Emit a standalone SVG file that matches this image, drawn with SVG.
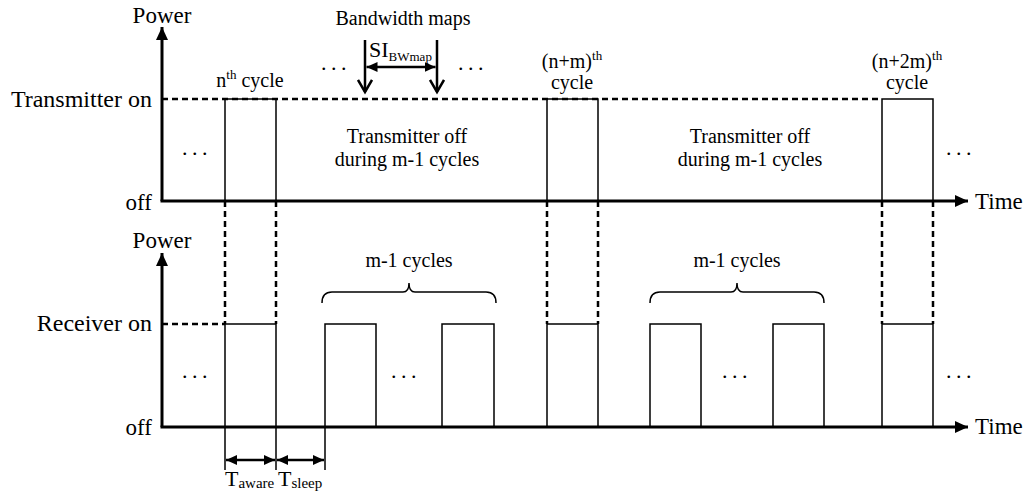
<svg xmlns="http://www.w3.org/2000/svg" width="1029" height="502" viewBox="0 0 1029 502">
<style>
text{font-family:"Liberation Serif","Times New Roman",serif;fill:#000}
.ax{font-size:23px}
.lb{font-size:20px}
.sup{font-size:13px}
.sub{font-size:15px}
.dots{font-size:22px;letter-spacing:4.5px}
.axis{stroke:#000;stroke-width:3;fill:none}
.box{stroke:#000;stroke-width:1.5;fill:none}
.dash{stroke:#000;stroke-width:2.5;stroke-dasharray:6 4;fill:none}
.thick{stroke:#000;stroke-width:2.5;fill:none}
.brace{stroke:#000;stroke-width:1.5;fill:none}
</style>
<defs>
<marker id="axh" markerUnits="userSpaceOnUse" markerWidth="14" markerHeight="12" refX="13" refY="6" orient="auto"><path d="M0,0 L13,6 L0,12 z" fill="#000"/></marker>
<marker id="ah" markerUnits="userSpaceOnUse" markerWidth="11" markerHeight="10" refX="11" refY="5" orient="auto-start-reverse"><path d="M0,0 L11,5 L0,10 z" fill="#000"/></marker>
<marker id="vh" markerUnits="userSpaceOnUse" markerWidth="16" markerHeight="16" refX="13" refY="8" orient="auto"><path d="M1,1 L13,8 L1,15" fill="none" stroke="#000" stroke-width="2.5"/></marker>
</defs>

<g id="connectors">
  <path class="dash" d="M162,99 H882"/>
  <path class="dash" d="M162,324 H225"/>
  <path class="dash" d="M225,201 V324 M276,201 V324 M547,201 V324 M598,201 V324 M882,201 V324 M933,201 V324"/>
  <line class="axis" x1="162" y1="201" x2="162" y2="27" marker-end="url(#axh)"/>
  <line class="axis" x1="160.5" y1="201" x2="968" y2="201" marker-end="url(#axh)"/>
  <line class="axis" x1="162" y1="427" x2="162" y2="253" marker-end="url(#axh)"/>
  <line class="axis" x1="160.5" y1="427" x2="968" y2="427" marker-end="url(#axh)"/>
  <line class="thick" x1="365" y1="40" x2="365" y2="92" marker-end="url(#vh)"/>
  <line class="thick" x1="437" y1="40" x2="437" y2="92" marker-end="url(#vh)"/>
  <line class="thick" x1="366.5" y1="67" x2="435.5" y2="67" marker-start="url(#ah)" marker-end="url(#ah)"/>
  <path class="box" d="M225,427 V470 M276,427 V470 M325,427 V470"/>
  <line class="thick" x1="226" y1="460" x2="275" y2="460" marker-start="url(#ah)" marker-end="url(#ah)"/>
  <line class="thick" x1="277" y1="460" x2="324" y2="460" marker-start="url(#ah)" marker-end="url(#ah)"/>
</g>

<g id="tx-pulses">
  <path class="box" d="M225,201 V99 H276 V201"/>
  <path class="box" d="M547,201 V99 H598 V201"/>
  <path class="box" d="M882,201 V99 H933 V201"/>
</g>

<g id="rx-pulses">
  <path class="box" d="M225,427 V324 H276 V427"/>
  <path class="box" d="M325,427 V324 H376 V427"/>
  <path class="box" d="M442,427 V324 H494 V427"/>
  <path class="box" d="M547,427 V324 H598 V427"/>
  <path class="box" d="M650,427 V324 H701 V427"/>
  <path class="box" d="M773,427 V324 H824 V427"/>
  <path class="box" d="M882,427 V324 H933 V427"/>
</g>

<g id="braces">
  <path class="brace" d="M322,303 Q322,292 332,292 H403 Q409,292 409,283 Q409,292 415,292 H486 Q496,292 496,303"/>
  <path class="brace" d="M650,303 Q650,292 660,292 H731 Q737,292 737,283 Q737,292 743,292 H814 Q824,292 824,303"/>
</g>

<g id="axis-labels">
  <text class="ax" x="162" y="23" text-anchor="middle">Power</text>
  <text class="ax" x="152" y="107" text-anchor="end" style="font-size:24px">Transmitter on</text>
  <text class="ax" x="152" y="210" text-anchor="end">off</text>
  <text class="ax" x="975" y="209">Time</text>
  <text class="ax" x="162" y="248" text-anchor="middle">Power</text>
  <text class="ax" x="152" y="331" text-anchor="end" style="font-size:24px">Receiver on</text>
  <text class="ax" x="152" y="435" text-anchor="end">off</text>
  <text class="ax" x="975" y="434">Time</text>
</g>

<g id="labels">
  <text class="lb" x="250" y="87" text-anchor="middle">n<tspan class="sup" dy="-8">th</tspan><tspan dy="8"> cycle</tspan></text>
  <text class="lb" x="572" y="68" text-anchor="middle">(n+m)<tspan class="sup" dy="-8">th</tspan></text>
  <text class="lb" x="572" y="89" text-anchor="middle">cycle</text>
  <text class="lb" x="907" y="68" text-anchor="middle">(n+2m)<tspan class="sup" dy="-8">th</tspan></text>
  <text class="lb" x="907" y="89" text-anchor="middle">cycle</text>
  <text class="lb" x="403" y="25" text-anchor="middle">Bandwidth maps</text>
  <text class="lb" x="369" y="57" style="font-size:22px">SI<tspan class="sup" dy="4">BWmap</tspan></text>
  <text class="lb" x="407" y="143" text-anchor="middle">Transmitter off</text>
  <text class="lb" x="407" y="166" text-anchor="middle">during m-1 cycles</text>
  <text class="lb" x="750" y="143" text-anchor="middle">Transmitter off</text>
  <text class="lb" x="750" y="166" text-anchor="middle">during m-1 cycles</text>
  <text class="lb" x="409" y="267" text-anchor="middle">m-1 cycles</text>
  <text class="lb" x="737" y="267" text-anchor="middle">m-1 cycles</text>
  <text class="lb" x="225" y="486" style="font-size:22px">T<tspan class="sub" dy="2">aware</tspan></text>
  <text class="lb" x="278" y="486" style="font-size:22px">T<tspan class="sub" dy="2">sleep</tspan></text>
</g>

<g id="ellipses">
  <text class="dots" x="182" y="155">...</text>
  <text class="dots" x="946" y="155">...</text>
  <text class="dots" x="321" y="70">...</text>
  <text class="dots" x="458" y="70">...</text>
  <text class="dots" x="182" y="378">...</text>
  <text class="dots" x="391" y="378">...</text>
  <text class="dots" x="722" y="378">...</text>
  <text class="dots" x="946" y="378">...</text>
</g>
</svg>
